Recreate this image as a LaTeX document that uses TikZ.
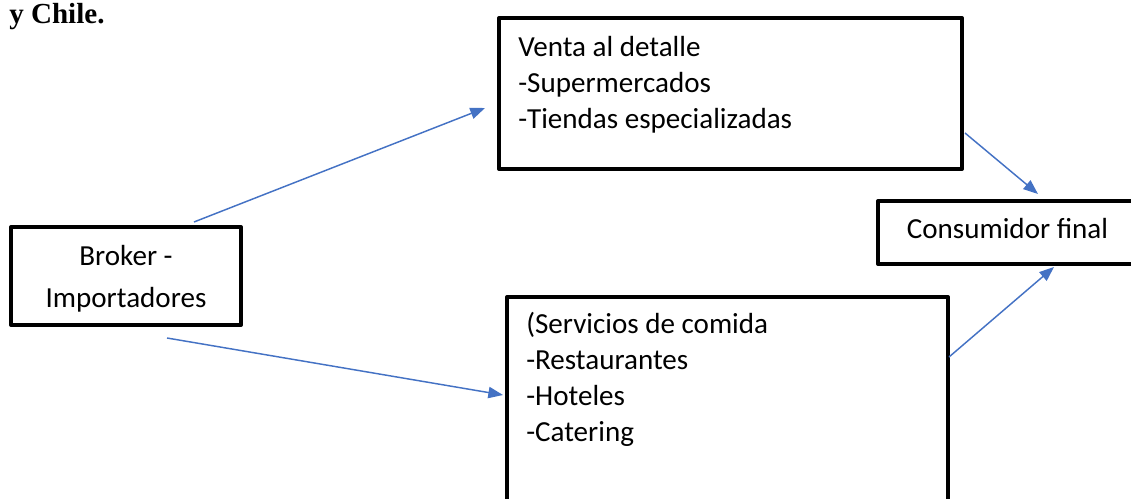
\documentclass[tikz,border=0pt]{standalone}
\usepackage{fontspec}
\setmainfont{Carlito}
\newfontfamily\headfont{Liberation Serif}
\usetikzlibrary{calc, positioning, arrows.meta}
\definecolor{flowblue}{RGB}{68,114,196}
\newcommand{\pxu}{0.75pt}

\begin{document}
\begin{tikzpicture}[
    x=0.75pt, y=-0.75pt,
    box/.style={draw, line width=3pt, line join=round, inner sep=0pt, anchor=north west},
    txt/.style={inner sep=0pt, font=\fontsize{21.8}{27}\selectfont},
    flow/.style={draw=flowblue, line width=1.1pt, -{Triangle[length=11pt, width=8.5pt]}}
]
    \clip (0,0) rectangle (1131,499);

    % Heading fragment
    \node[inner sep=0pt, anchor=base west, font=\headfont\bfseries\fontsize{21.8}{26}\selectfont] (heading) at (9,24) {y Chile.};

    % Boxes
    \node[box, minimum width=230*\pxu, minimum height=98*\pxu] (broker) at (9,225) {};
    \node[box, minimum width=463*\pxu, minimum height=151*\pxu] (venta) at (497,16) {};
    \node[box, minimum width=262*\pxu, minimum height=63*\pxu] (consumidor) at (876,199) {};
    \node[box, minimum width=441*\pxu, minimum height=227*\pxu] (servicios) at (505,295) {};

    % Texts
    \node[txt, anchor=base] (broker-0) at ($(broker.north)+(0,40)$) {Broker -};
    \node[txt, anchor=base] (broker-1) at ($(broker.north)+(0,82)$) {Importadores};

    \foreach \t [count=\i from 0] in {Venta al detalle, -Supermercados, -Tiendas especializadas}
        \node[txt, anchor=base west] (venta-\i) at ($(venta.north west)+(21,{41+36*\i})$) {\t};

    \node[txt, anchor=base] (consumidor-0) at ($(consumidor.north west)+(131.5,39)$) {Consumidor final};

    \foreach \t [count=\i from 0] in {{(Servicios de comida}, -Restaurantes, -Hoteles, -Catering}
        \node[txt, anchor=base west] (servicios-\i) at ($(servicios.north west)+(21,{38.3+36.1*\i})$) {\t};

    % Connectors
    \coordinate (a1s) at ($(broker.north)+(68,-3)$);
    \coordinate (a1e) at ($(venta.north west)+(-12,92)$);
    \coordinate (a2s) at ($(broker.south)+(41,11)$);
    \coordinate (a2e) at ($(servicios.north west)+(-2,100)$);
    \coordinate (a3s) at ($(venta.north east)+(1,117)$);
    \coordinate (a3e) at ($(consumidor.north west)+(162,-5)$);
    \coordinate (a4s) at ($(servicios.north east)+(-1,62)$);
    \coordinate (a4e) at ($(consumidor.south west)+(178,1)$);

    \draw[flow] (a1s) -- (a1e);
    \draw[flow] (a2s) -- (a2e);
    \draw[flow] (a3s) -- (a3e);
    \draw[flow] (a4s) -- (a4e);

\end{tikzpicture}
\end{document}
